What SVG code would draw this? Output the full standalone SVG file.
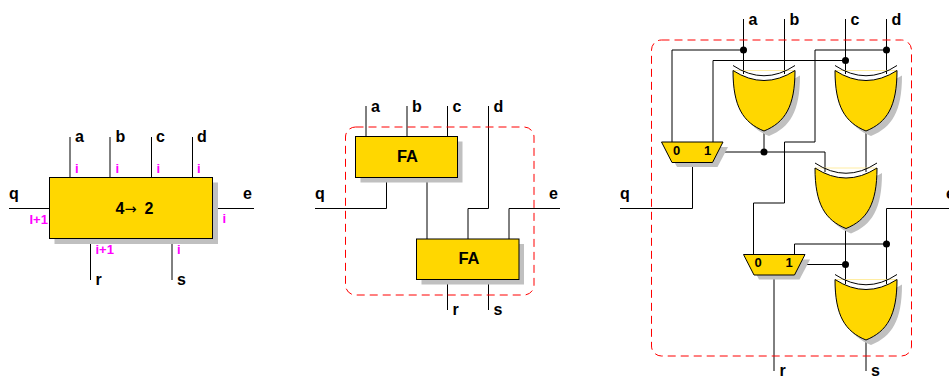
<svg xmlns="http://www.w3.org/2000/svg" width="949" height="376" viewBox="0 0 949 376">
<style>
text{font-family:"Liberation Sans",Arial,sans-serif;font-weight:bold;fill:#000}
.l{font-size:16px}
.t{font-size:16.500px;text-anchor:middle}
.m{font-size:13px;fill:#ff00ff}
.d{font-size:13px;text-anchor:middle}
.w{fill:none;stroke:#000;stroke-width:1}
.s{fill:#c0c0c0;stroke:none}
.b{fill:#ffd700;stroke:#000;stroke-width:1}
.r{fill:none;stroke:#ff0000;stroke-width:1;stroke-dasharray:8 5}
.a{fill:none;stroke:#000;stroke-width:1}
.p{stroke:#ffe98a;stroke-width:.8;fill:none}
</style>
<defs>
<g id="xor">
<path class="s" d="M5,5Q36,25 67,5C67,41 57,57 36,65.500C15,57 5,41 5,5Z"/>
<path class="p" d="M0,0H62"/>
<path class="b" d="M0,0Q31,20 62,0C62,36 52,52 31,60.500C10,52 0,36 0,0Z"/>
<path class="a" d="M0,-5Q31,15.500 62,-5"/>
</g>
<g id="mux">
<path class="s" d="M5,5H66.500L56,25H15.500Z"/>
<path class="b" d="M0,0H61.500L51,20.500H10.500Z"/>
</g>
<circle id="dot" r="3.500" fill="#000"/>
</defs>

<g id="connectors">
<path class="w" d="M70,137V177.500M110,137V177.500M151.500,137V177.500M192.500,137V177.500M9,208.500H49.500M218,208.500H254M90.500,244V280M172,244V280"/>
<path class="w" d="M366,106V137M407,106V137M447.500,106V137M488.500,106V208.500H468V239M315,208.500H386.500V177.500M427,177.500V239M509,239V208.500H560M447.500,279.500V310M488.500,279.500V310"/>
<path class="w" d="M743.500,19V74M784.500,19V74M845.500,19V74M886.500,19V74"/>
<path class="w" d="M743.500,50H672V142M845.500,60.500H713V142M886.500,50H815V142H784.500V203H753.500V254.500"/>
<path class="w" d="M718,152H825V172M764,131V152M866,131V172"/>
<path class="w" d="M692.500,162.500V208.500H620"/>
<path class="w" d="M845.500,228V284M949,208.500H886.500V284M886.500,244H794.500V254.500M800,264.500H845.500"/>
<path class="w" d="M774,275V371M866,340V371"/>
</g>

<g id="node-4to2">
<rect class="s" x="54.500" y="182.500" width="163.500" height="61.500"/>
<rect class="b" x="49.500" y="177.500" width="163" height="61"/>
<text class="l" x="115.500" y="213.500">4<tspan font-family="DejaVu Sans" font-weight="normal" font-size="14.500">→</tspan><tspan x="144.500">2</tspan></text>
</g>
<g id="labels-left">
<text class="l" x="75" y="142">a</text><text class="l" x="115.500" y="142">b</text><text class="l" x="156" y="142">c</text><text class="l" x="197" y="142">d</text>
<text class="l" x="9" y="199">q</text><text class="l" x="243" y="199">e</text>
<text class="l" x="95.500" y="285">r</text><text class="l" x="177" y="285">s</text>
<text class="m" x="75" y="172.500">i</text><text class="m" x="115.500" y="172.500">i</text><text class="m" x="156.500" y="172.500">i</text><text class="m" x="197" y="172.500">i</text>
<text class="m" x="29.500" y="224">I+1</text><text class="m" x="222.500" y="223">i</text>
<text class="m" x="95.500" y="254">i+1</text><text class="m" x="177" y="254">i</text>
</g>

<rect id="boundary-middle" class="r" x="345.500" y="127" width="188.500" height="168" rx="10"/>
<g id="node-fa1">
<rect class="s" x="360.500" y="141.500" width="102" height="41"/>
<rect class="b" x="355.500" y="136.500" width="102" height="41"/>
<text class="t" x="407.500" y="162">FA</text>
</g>
<g id="node-fa2">
<rect class="s" x="421.500" y="244" width="102.500" height="40.500"/>
<rect class="b" x="416.500" y="239" width="102.500" height="40.500"/>
<text class="t" x="469" y="264">FA</text>
</g>
<g id="labels-middle">
<text class="l" x="371" y="112">a</text><text class="l" x="412" y="112">b</text><text class="l" x="452.500" y="112">c</text><text class="l" x="493.500" y="112">d</text>
<text class="l" x="315" y="199">q</text><text class="l" x="549" y="199">e</text>
<text class="l" x="452.500" y="315">r</text><text class="l" x="493.500" y="315">s</text>
</g>

<rect id="boundary-right" class="r" x="651.500" y="40" width="260" height="316" rx="10"/>
<g id="node-xor1"><use href="#xor" x="733" y="70.500"/></g>
<g id="node-xor2"><use href="#xor" x="835" y="70.500"/></g>
<g id="node-xor3"><use href="#xor" x="815" y="168"/></g>
<g id="node-xor4"><use href="#xor" x="835" y="279.500"/></g>
<g id="node-mux1"><use href="#mux" x="661.500" y="142"/><text class="d" x="676.500" y="155">0</text><text class="d" x="707.500" y="155">1</text></g>
<g id="node-mux2"><use href="#mux" x="743.500" y="254.500"/><text class="d" x="758" y="267">0</text><text class="d" x="789" y="267">1</text></g>
<g id="junctions">
<use href="#dot" x="743.500" y="50"/><use href="#dot" x="886.500" y="50"/><use href="#dot" x="845.500" y="60.500"/><use href="#dot" x="764" y="152"/>
<use href="#dot" x="886.500" y="244"/><use href="#dot" x="845.500" y="264.500"/>
</g>
<g id="labels-right">
<text class="l" x="748.500" y="25">a</text><text class="l" x="789.500" y="25">b</text><text class="l" x="850.500" y="25">c</text><text class="l" x="891.500" y="25">d</text>
<text class="l" x="620" y="199">q</text><text class="l" x="946" y="199">e</text>
<text class="l" x="779.500" y="375.500">r</text><text class="l" x="871" y="375.500">s</text>
</g>
</svg>
